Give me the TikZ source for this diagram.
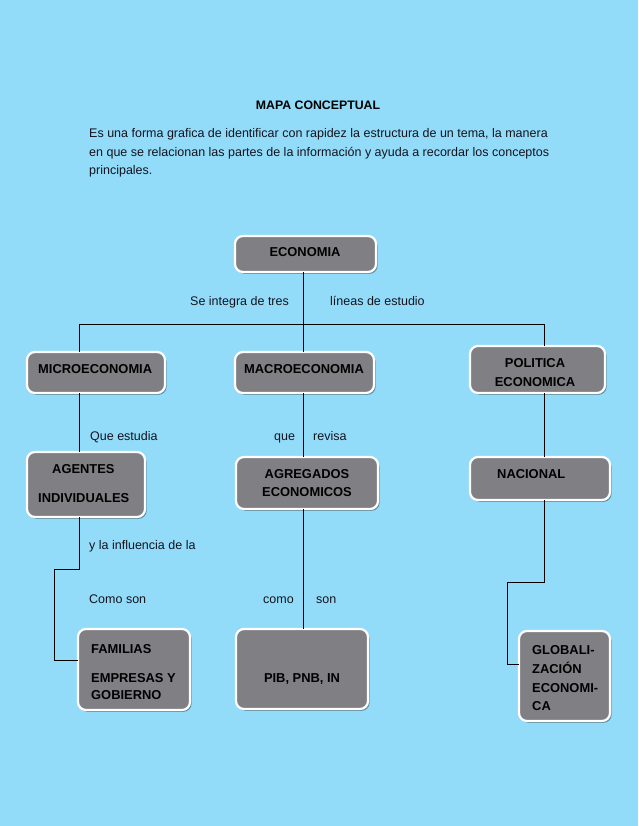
\documentclass[tikz,border=0pt]{standalone}
\usepackage{fontspec}
\setmainfont{Liberation Sans}
\usetikzlibrary{shadows}
\definecolor{bgblue}{RGB}{146,220,249}
\definecolor{boxgray}{RGB}{128,128,132}
\definecolor{txt}{RGB}{20,20,30}
\tikzset{
  box/.style={draw=white, line width=2.2pt, fill=boxgray, rounded corners=8pt,
    inner sep=0pt, outer sep=0pt,
    drop shadow={shadow xshift=1.6pt, shadow yshift=-1.8pt, fill=black, opacity=0.35}},
  btxt/.style={font=\fontsize{12.9}{14}\selectfont\bfseries, text=black, inner sep=0pt},
  ttxt/.style={font=\fontsize{12.3}{14}\selectfont\bfseries, text=black, inner sep=0pt},
  ltxt/.style={font=\fontsize{12.5}{14}\selectfont, text=txt, inner sep=0pt, anchor=base west},
  conn/.style={draw=black, line width=0.9pt}
}
\begin{document}
\begin{tikzpicture}[x=1pt,y=-1pt]
\fill[bgblue] (0,0) rectangle (638,826);
\useasboundingbox (0,0) rectangle (638,826);

% header
\node[ttxt, anchor=base] (title) at (318,109.4) {MAPA CONCEPTUAL};
\node[ltxt] (p1) at (89,137.4) {Es una forma grafica de identificar con rapidez la estructura de un tema, la manera};
\node[ltxt] (p2) at (89,156.4) {en que se relacionan las partes de la información y ayuda a recordar los conceptos};
\node[ltxt] (p3) at (89,174.4) {principales.};

% boxes
\node[box, minimum width=141pt, minimum height=36pt] (eco) at (305.5,254) {};
\node[box, minimum width=138pt, minimum height=41pt] (micro) at (96,372.5) {};
\node[box, minimum width=139pt, minimum height=41pt] (macro) at (304.5,372.5) {};
\node[box, minimum width=135pt, minimum height=47pt] (pol) at (537.5,369.5) {};
\node[box, minimum width=118pt, minimum height=65pt] (agent) at (86,484.5) {};
\node[box, minimum width=142pt, minimum height=52pt] (agreg) at (307,483) {};
\node[box, minimum width=140pt, minimum height=43pt] (nac) at (540,478.5) {};
\node[box, minimum width=112pt, minimum height=81pt] (fam) at (134,669.5) {};
\node[box, minimum width=132pt, minimum height=80pt] (pib) at (302,669) {};
\node[box, minimum width=91pt, minimum height=90pt] (glob) at (564.5,676) {};

% box texts
\node[btxt, anchor=base] (ecot) at (305,256) {ECONOMIA};
\node[btxt, anchor=base west] (microt) at (38,373) {MICROECONOMIA};
\node[btxt, anchor=base] (macrot) at (304,373) {MACROECONOMIA};
\node[btxt, anchor=base] (polt1) at (535,367) {POLITICA};
\node[btxt, anchor=base] (polt2) at (535,386) {ECONOMICA};
\node[btxt, anchor=base west] (agt1) at (52,473) {AGENTES};
\node[btxt, anchor=base west] (agt2) at (38,502) {INDIVIDUALES};
\node[btxt, anchor=base] (agrt1) at (307,478) {AGREGADOS};
\node[btxt, anchor=base] (agrt2) at (307,496) {ECONOMICOS};
\node[btxt, anchor=base west] (nact) at (497,478) {NACIONAL};
\node[btxt, anchor=base west] (famt1) at (91,653) {FAMILIAS};
\node[btxt, anchor=base west] (famt2) at (91,682) {EMPRESAS Y};
\node[btxt, anchor=base west] (famt3) at (91,699) {GOBIERNO};
\node[btxt, anchor=base] (pibt) at (302,682) {PIB, PNB, IN};
\node[btxt, anchor=base west] (globt1) at (532,654) {GLOBALI-};
\node[btxt, anchor=base west] (globt2) at (532,673) {ZACIÓN};
\node[btxt, anchor=base west] (globt3) at (532,692) {ECONOMI-};
\node[btxt, anchor=base west] (globt4) at (532,710) {CA};

% connector labels
\node[ltxt] (l1) at (190,305.5) {Se integra de tres};
\node[ltxt] (l2) at (330,305.5) {líneas de estudio};
\node[ltxt] (l3) at (90,440.5) {Que estudia};
\node[ltxt] (l4) at (274,440.5) {que};
\node[ltxt] (l5) at (313,440.5) {revisa};
\node[ltxt] (l6) at (89,549.5) {y la influencia de la};
\node[ltxt] (l7) at (89,603.5) {Como son};
\node[ltxt] (l8) at (263,603.5) {como};
\node[ltxt] (l9) at (316,603.5) {son};

% junctions
\coordinate (jm) at (303,324);
\coordinate (jl) at (79,324);
\coordinate (jr) at (544,324);
\coordinate (a1) at (79,569);
\coordinate (a2) at (54,569);
\coordinate (a3) at (54,660);
\coordinate (n1) at (544,582);
\coordinate (n2) at (507,582);
\coordinate (n3) at (507,664);

% connectors
\draw[conn] (eco.south -| jm) -- (jm);
\draw[conn] (jl) -- (jr);
\draw[conn] (jl) -- (micro.north -| jl);
\draw[conn] (jm) -- (macro.north -| jm);
\draw[conn] (jr) -- (pol.north -| jr);
\draw[conn] (micro.south -| jl) -- (agent.north -| jl);
\draw[conn] (macro.south -| jm) -- (agreg.north -| jm);
\draw[conn] (pol.south -| jr) -- (nac.north -| jr);
\draw[conn] (agent.south -| a1) -- (a1) -- (a2) -- (a3) -- (fam.west |- a3);
\draw[conn] (agreg.south -| jm) -- (pib.north -| jm);
\draw[conn] (nac.south -| n1) -- (n1) -- (n2) -- (n3) -- (glob.west |- n3);
\end{tikzpicture}
\end{document}
